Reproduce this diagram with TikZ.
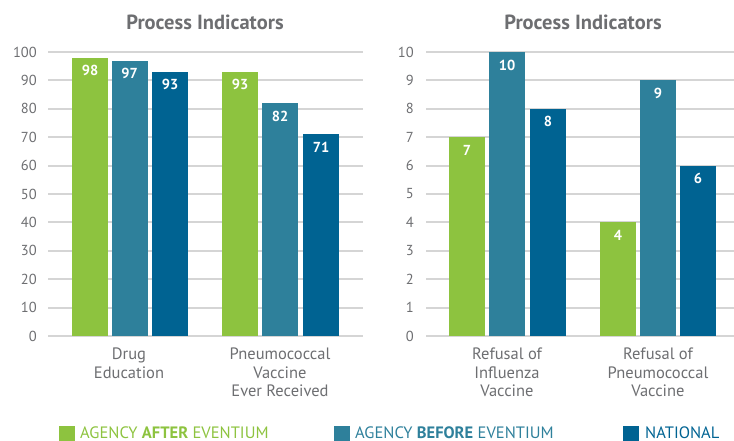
\documentclass[tikz,border=0pt]{standalone}
\usepackage{fontspec}
\setmainfont{PT Sans}
\definecolor{after}{HTML}{8DC33F}
\definecolor{before}{HTML}{2E809B}
\definecolor{national}{HTML}{006392}
\definecolor{txt}{HTML}{6D6E71}
\definecolor{gridc}{HTML}{D5D5D5}

\begin{document}
\begin{tikzpicture}[x=1pt,y=-1pt,
  gridline/.style={draw=gridc,line width=2pt},
  ticklabel/.style={anchor=east,inner sep=0pt,text=txt,font=\fontsize{14.5}{14.5}\selectfont},
  catlabel/.style={anchor=north,inner sep=0pt,align=center,text=txt,font=\fontsize{16.5}{18.5}\selectfont},
  barval/.style={text=white,font=\bfseries\fontsize{14.5}{14.5}\selectfont},
  charttitle/.style={text=txt,font=\bfseries\fontsize{20.5}{20.5}\selectfont},
  legendtext/.style={anchor=base west,inner sep=0pt,font=\fontsize{16.5}{16.5}\selectfont}]
  \useasboundingbox (0,0) rectangle (734,441);

  \node[charttitle] (titleL) at (205,22) {Process Indicators};
  \node[charttitle] (titleR) at (583,22) {Process Indicators};

  \foreach \t in {0,10,...,100} {
    \draw[gridline] (48,{336-\t*2.84}) -- (363,{336-\t*2.84});
    \node[ticklabel] (tickL\t) at (37,{336-\t*2.84}) {\t};
  }
  \foreach \t in {0,...,10} {
    \draw[gridline] (426,{336-\t*28.4}) -- (734,{336-\t*28.4});
    \node[ticklabel] (tickR\t) at (414,{336-\t*28.4}) {\t};
  }

  \foreach \x/\v/\c/\n in {72/98/after/a, 111.5/97/before/b, 152/93/national/c,
                           222/93/after/d, 262/82/before/e, 303/71/national/f} {
    \fill[\c] (\x,336) rectangle ++(36,{-\v*2.84});
    \node[barval] (val\n) at ({\x+18},{336-\v*2.84+13}) {\v};
  }
  \foreach \x/\v/\c/\n in {449/7/after/g, 489/10/before/h, 530/8/national/i,
                           600/4/after/j, 640/9/before/k, 680/6/national/l} {
    \fill[\c] (\x,336) rectangle ++(36,{-\v*28.4});
    \node[barval] (val\n) at ({\x+18},{336-\v*28.4+13}) {\v};
  }

  \node[catlabel] (drug) at (129,348) {Drug\\Education};
  \node[catlabel] (pneumo) at (280,348) {Pneumococcal\\Vaccine\\Ever Received};
  \node[catlabel] (refflu) at (507,348) {Refusal of\\Influenza\\Vaccine};
  \node[catlabel] (refpneumo) at (658,348) {Refusal of\\Pneumococcal\\Vaccine};

  \foreach \x/\c/\n/\w in {59/after/after/AFTER, 334/before/before/BEFORE} {
    \fill[\c] (\x,426) rectangle ++(16,15);
    \node[legendtext,text=\c] (key\n) at ({\x+21},438.5) {AGENCY \textbf{\w} EVENTIUM};
  }
  \fill[national] (623,426) rectangle ++(16,15);
  \node[legendtext,text=national] (keynational) at (645,438.5) {NATIONAL};

\end{tikzpicture}
\end{document}
